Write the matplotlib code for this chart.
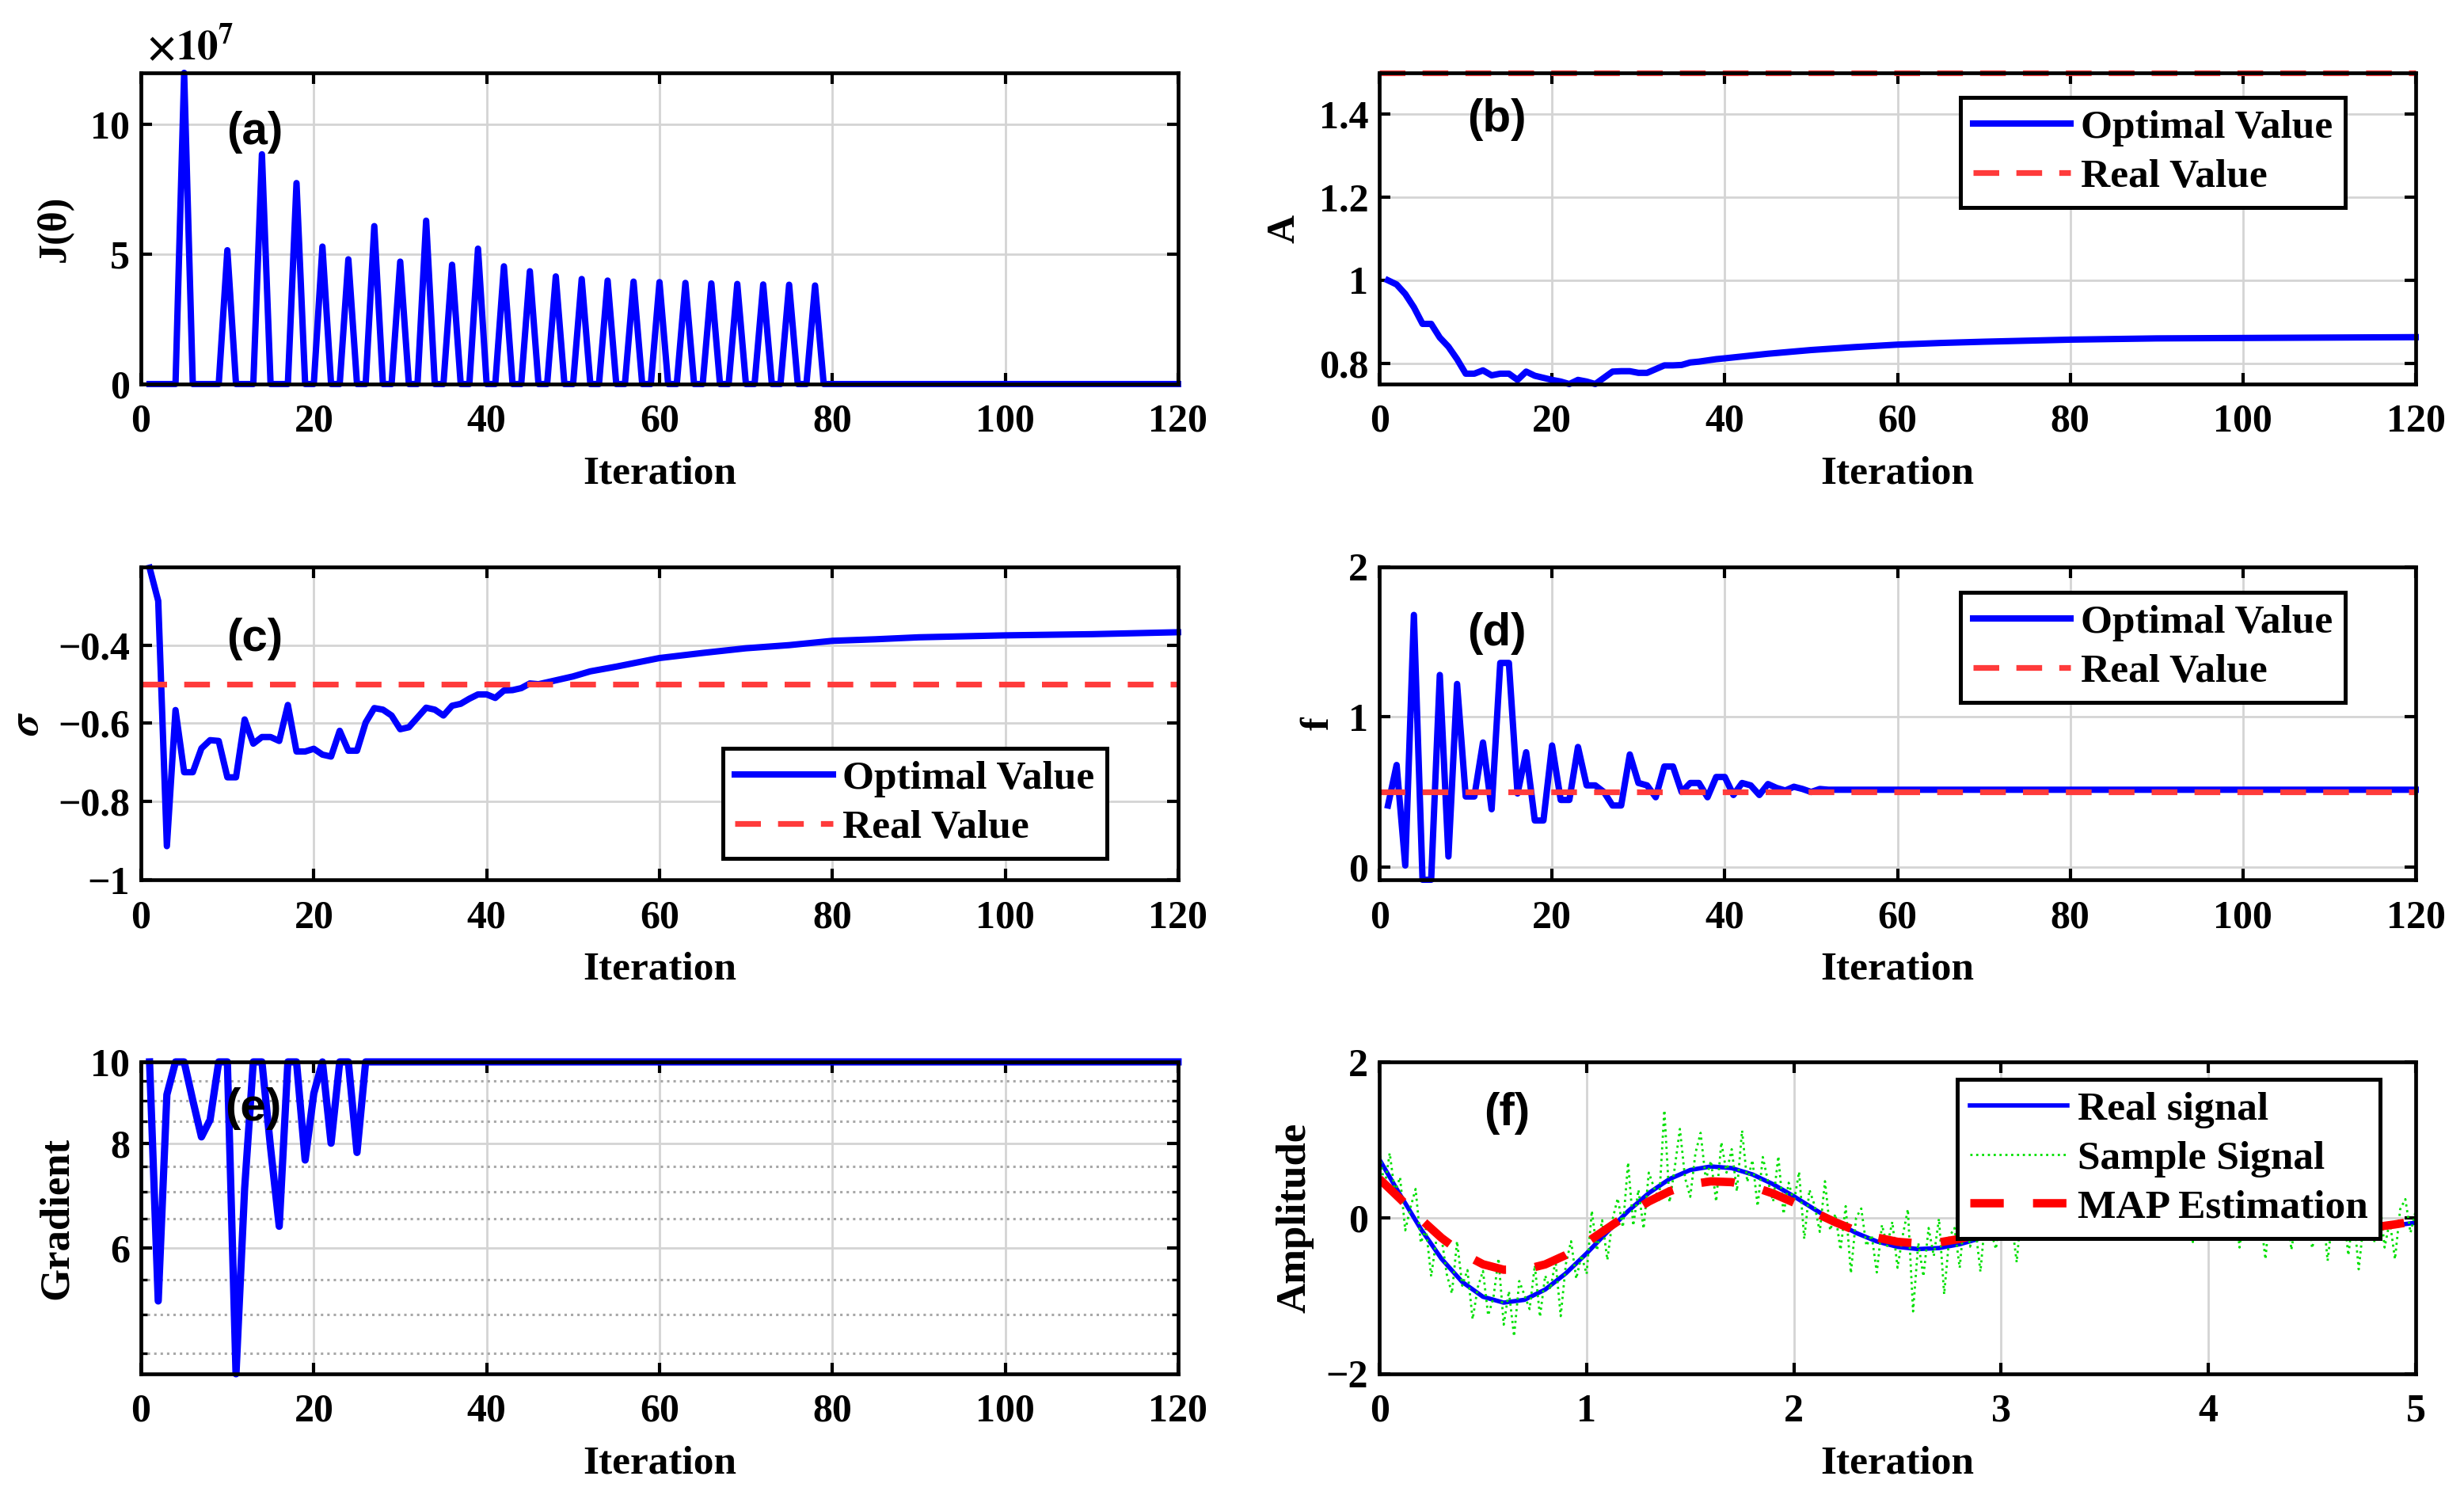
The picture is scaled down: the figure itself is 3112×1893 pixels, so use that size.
import numpy as np
import matplotlib.pyplot as plt
from matplotlib.ticker import FixedLocator, NullFormatter

plt.rcParams['font.family'] = ['Liberation Serif', 'DejaVu Serif']
plt.rcParams['font.weight'] = 'bold'
plt.rcParams['mathtext.fontset'] = 'stix'

# ---------------- data ----------------
# (a) cost J(theta), in units of 1e7: spikes, zero elsewhere
n_iter = 120
spike_iters = [5, 10, 14, 18, 21, 24, 27, 30, 33, 36, 39, 42, 45, 48, 51, 54,
               57, 60, 63, 66, 69, 72, 75, 78]
spike_vals = [12.0, 5.16, 8.86, 7.75, 5.3, 4.81, 6.09, 4.72, 6.3, 4.6, 5.22,
              4.54, 4.35, 4.15, 4.05, 3.99, 3.95, 3.93, 3.9, 3.88, 3.86, 3.84,
              3.83, 3.80]

# (b) amplitude A
iter_b = list(range(1, 41)) + [45, 50, 55, 60, 65, 70, 80, 90, 100, 110, 120]
A_opt = [1.0, 0.99, 0.967, 0.935, 0.895, 0.895, 0.862, 0.84, 0.81, 0.775,
         0.775, 0.783, 0.771, 0.775, 0.775, 0.76, 0.78, 0.77, 0.765, 0.76,
         0.756, 0.75, 0.76, 0.756, 0.75, 0.765, 0.78, 0.781, 0.781, 0.777,
         0.777, 0.786, 0.795, 0.795, 0.796, 0.802, 0.804, 0.807, 0.81, 0.812,
         0.823, 0.832, 0.839, 0.845, 0.849, 0.852, 0.857, 0.86, 0.861, 0.862, 0.863]
A_real = 1.5

# (c) damping sigma
iter_c = list(range(1, 49)) + [50, 52, 55, 60, 65, 70, 75, 80, 85, 90, 100, 110, 120]
sigma_opt = [-0.202, -0.287, -0.914, -0.566, -0.725, -0.725, -0.664, -0.643, -0.645, -0.738,
             -0.738, -0.59, -0.652, -0.635, -0.635, -0.645, -0.553, -0.672, -0.672, -0.665,
             -0.68, -0.685, -0.619, -0.67, -0.67, -0.598, -0.561, -0.565, -0.58, -0.615,
             -0.61, -0.585, -0.56, -0.565, -0.58, -0.555, -0.55, -0.537, -0.526, -0.526,
             -0.535, -0.516, -0.515, -0.51, -0.498, -0.5, -0.495, -0.49,
             -0.48, -0.467, -0.455, -0.433, -0.42, -0.408, -0.4, -0.389, -0.385, -0.38,
             -0.375, -0.372, -0.367]
sigma_real = -0.5

# (d) frequency f
iter_d = list(range(1, 52)) + [52, 120]
f_opt = [0.41, 0.68, 0.01, 1.68, -0.085, -0.085, 1.28, 0.07, 1.22, 0.47,
         0.47, 0.83, 0.385, 1.36, 1.36, 0.49, 0.765, 0.31, 0.31, 0.81,
         0.447, 0.447, 0.80, 0.544, 0.544, 0.50, 0.41, 0.41, 0.75, 0.56,
         0.544, 0.465, 0.67, 0.67, 0.50, 0.56, 0.56, 0.465, 0.60, 0.60,
         0.48, 0.56, 0.544, 0.48, 0.553, 0.527, 0.51, 0.535, 0.52, 0.50,
         0.52, 0.515, 0.515]
f_real = 0.5

# (e) gradient (log axis)
iter_e = list(range(1, 27)) + [120]
grad = [10, 5.19, 9.14, 10, 10, 9.0, 8.14, 8.53, 10, 10,
        4.25, 7.07, 10, 10, 7.9, 6.37, 10, 10, 7.64, 9.17,
        10, 8.0, 10, 10, 7.8, 10, 10]

# (f) signals
t_coarse = [round(0.1 * k, 1) for k in range(51)]
real_signal = [0.750, 0.297, -0.142, -0.525, -0.822, -1.012, -1.087, -1.051, -0.919, -0.711,
               -0.455, -0.180, 0.086, 0.318, 0.498, 0.614, 0.659, 0.638, 0.557, 0.431,
               0.276, 0.109, -0.052, -0.193, -0.302, -0.372, -0.400, -0.387, -0.338, -0.262,
               -0.167, -0.066, 0.032, 0.117, 0.183, 0.226, 0.243, 0.235, 0.205, 0.159,
               0.102, 0.040, -0.019, -0.071, -0.111, -0.137, -0.147, -0.142, -0.124, -0.096,
               -0.062]
map_est = [0.500, 0.245, -0.016, -0.257, -0.456, -0.595, -0.665, -0.664, -0.597, -0.476,
           -0.316, -0.135, 0.046, 0.210, 0.341, 0.429, 0.468, 0.458, 0.403, 0.312,
           0.196, 0.069, -0.056, -0.166, -0.252, -0.307, -0.328, -0.314, -0.270, -0.203,
           -0.120, -0.031, 0.055, 0.129, 0.185, 0.219, 0.229, 0.215, 0.181, 0.131,
           0.072, 0.009, -0.049, -0.099, -0.135, -0.156, -0.159, -0.146, -0.120, -0.084,
           -0.041]
t_fine = [round(0.025 * j, 3) for j in range(201)]
sample_signal = [0.87, 0.39, 0.83, 0.33, 0.52, -0.16, 0.13, 0.37, -0.32, -0.14,
                 -0.75, -0.28, -0.25, -0.72, -0.97, -0.30, -0.87, -0.67, -1.30, -0.89,
                 -0.68, -1.25, -1.03, -0.52, -1.37, -0.94, -1.52, -0.81, -0.99, -1.17,
                 -0.61, -1.27, -0.74, -0.92, -0.55, -1.26, -0.59, -0.30, -0.78, -0.48,
                 -0.72, 0.09, -0.42, -0.03, -0.54, -0.02, 0.25, -0.12, 0.71, -0.10,
                 0.36, -0.14, 0.58, 0.39, 0.23, 1.38, 0.20, 0.64, 1.14, 0.51,
                 0.27, 0.83, 1.09, 0.49, 0.73, 0.21, 0.97, 0.58, 0.88, 0.34,
                 1.12, 0.46, 0.74, 0.15, 0.78, 0.47, 0.21, 0.79, 0.05, 0.45,
                 0.20, 0.59, -0.27, 0.36, 0.16, -0.18, 0.47, -0.16, 0.05, -0.41,
                 0.15, -0.71, 0.00, 0.12, -0.36, -0.22, -0.70, -0.09, -0.36, -0.05,
                 -0.64, -0.23, 0.11, -1.20, -0.32, -0.75, -0.13, -0.49, -0.01, -0.98,
                 -0.24, -0.13, -0.64, 0.09, -0.37, -0.11, -0.69, 0.05, -0.17, -0.40,
                 0.18, -0.28, -0.03, -0.57, 0.18, 0.36, -0.22, 0.14, -0.30, 0.11,
                 0.38, -0.16, 0.59, 0.04, 0.33, -0.20, 0.20, 0.47, 0.05, 0.61,
                 -0.06, 0.34, 0.19, 0.57, -0.17, 0.44, 0.31, 0.00, 0.69, 0.10,
                 0.38, -0.14, 0.46, 0.17, 0.55, -0.11, 0.26, -0.31, 0.34, 0.42,
                 -0.08, 0.14, -0.25, 0.48, -0.07, 0.27, -0.38, 0.14, 0.31, -0.25,
                 0.04, -0.53, 0.20, -0.14, 0.10, 0.26, -0.41, 0.00, -0.28, 0.31,
                 -0.39, -0.11, 0.17, -0.55, 0.02, -0.24, 0.14, -0.48, 0.08, -0.66,
                 -0.03, 0.13, -0.31, 0.26, -0.38, -0.04, -0.53, 0.11, 0.24, -0.19,
                 0.09]

iters = np.arange(1, n_iter + 1)
J = np.zeros(n_iter)
J[np.array(spike_iters) - 1] = spike_vals

BLUE = '#0000ff'
RED_REAL = '#ff3b3b'
FS = 18

fig = plt.figure(figsize=(15.56, 9.465), dpi=200)
lefts = [0.0572, 0.5598]
widths = [0.4209, 0.4206]
bottoms = [0.7438, 0.4131, 0.0835]
heights = [0.2076, 0.2087, 0.2081]
axs = [[fig.add_axes([lefts[c], bottoms[r], widths[c], heights[r]]) for c in range(2)]
       for r in range(3)]


def style(ax):
    ax.grid(True, color='#d4d4d4', lw=1.0)
    ax.set_axisbelow(True)
    for s in ax.spines.values():
        s.set_linewidth(1.7)
    ax.tick_params(direction='in', top=True, right=True, length=5, width=1.5,
                   labelsize=FS)
    ax.tick_params(axis='x', pad=9)
    ax.tick_params(axis='y', pad=5)
    ax.set_xlabel('Iteration', fontsize=FS + 0.5, fontweight='bold', labelpad=7)


def panel(ax, s, x, y):
    ax.text(x, y, s, transform=ax.transAxes, fontfamily='Liberation Sans',
            fontweight='bold', fontsize=21, ha='center', va='center')


def leg(ax, anchor):
    lg = ax.legend(loc='upper left', bbox_to_anchor=anchor, borderaxespad=0,
                   fancybox=False, edgecolor='black', framealpha=1,
                   prop={'size': FS + 0.5, 'weight': 'bold'}, handlelength=2.4,
                   handletextpad=0.25, borderpad=0.3, labelspacing=0.28)
    lg.get_frame().set_linewidth(1.8)


# (a)
ax = axs[0][0]
style(ax)
ax.plot(iters, J, color=BLUE, lw=2.9, clip_on=False)
ax.set_xlim(0, 120)
ax.set_ylim(0, 12.0)
ax.set_xticks(range(0, 121, 20))
ax.set_yticks([0, 5, 10])
ax.set_ylabel('J(θ)', fontsize=FS, fontweight='bold')
ax.yaxis.set_label_coords(-0.066, 0.5)
ax.text(0.005, 1.015, r'$\times10^{7}$', transform=ax.transAxes, fontsize=19,
        ha='left', va='bottom')
panel(ax, '(a)', 0.11, 0.81)

# (b)
ax = axs[0][1]
style(ax)
ax.plot(iter_b, A_opt, color=BLUE, lw=2.9, label='Optimal Value', clip_on=False)
ax.axhline(A_real, color=RED_REAL, lw=2.6, dashes=(4.5, 3), label='Real Value',
           clip_on=False)
ax.set_xlim(0, 120)
ax.set_ylim(0.75, 1.5)
ax.set_xticks(range(0, 121, 20))
ax.set_yticks([0.8, 1.0, 1.2, 1.4])
ax.set_yticklabels(['0.8', '1', '1.2', '1.4'])
ax.set_ylabel('A', fontsize=FS, fontweight='bold')
ax.yaxis.set_label_coords(-0.074, 0.5)
panel(ax, '(b)', 0.113, 0.85)
leg(ax, (0.561, 0.921))

# (c)
ax = axs[1][0]
style(ax)
ax.plot(iter_c, sigma_opt, color=BLUE, lw=2.9, label='Optimal Value', clip_on=False)
ax.axhline(sigma_real, color=RED_REAL, lw=2.6, dashes=(4.5, 3), label='Real Value')
ax.set_xlim(0, 120)
ax.set_ylim(-1, -0.2)
ax.set_xticks(range(0, 121, 20))
ax.set_yticks([-1, -0.8, -0.6, -0.4])
ax.set_yticklabels(['\u22121', '\u22120.8', '\u22120.6', '\u22120.4'])
ax.set_ylabel(r'$\sigma$', fontsize=FS + 1)
ax.yaxis.set_label_coords(-0.091, 0.5)
panel(ax, '(c)', 0.11, 0.77)
leg(ax, (0.561, 0.42))

# (d)
ax = axs[1][1]
style(ax)
ax.plot(iter_d, f_opt, color=BLUE, lw=2.9, label='Optimal Value', clip_on=False)
ax.axhline(f_real, color=RED_REAL, lw=2.6, dashes=(4.5, 3), label='Real Value')
ax.set_xlim(0, 120)
ax.set_ylim(-0.085, 2)
ax.set_xticks(range(0, 121, 20))
ax.set_yticks([0, 1, 2])
ax.set_ylabel('f', fontsize=FS, fontweight='bold')
ax.yaxis.set_label_coords(-0.041, 0.5)
panel(ax, '(d)', 0.113, 0.787)
leg(ax, (0.561, 0.919))

# (e)
ax = axs[2][0]
style(ax)
ax.set_yscale('log')
ax.plot(iter_e, grad, color=BLUE, lw=3.3, clip_on=False)
ax.set_xlim(0, 120)
ax.set_ylim(4.25, 10)
ax.set_xticks(range(0, 121, 20))
ax.yaxis.set_major_locator(FixedLocator([6, 8, 10]))
ax.set_yticklabels(['6', '8', '10'])
ax.yaxis.set_minor_locator(FixedLocator([4.5, 5, 5.5, 6.5, 7, 7.5, 8.5, 9, 9.5]))
ax.yaxis.set_minor_formatter(NullFormatter())
ax.tick_params(which='minor', axis='y', direction='in', length=3, width=1.2,
               right=True)
ax.grid(True, which='minor', axis='y', color='#a8a8a8', lw=1.1, linestyle=':')
ax.set_ylabel('Gradient', fontsize=FS + 1, fontweight='bold')
ax.yaxis.set_label_coords(-0.063, 0.5)
panel(ax, '(e)', 0.108, 0.85)

# (f)
ax = axs[2][1]
style(ax)
ax.plot(t_coarse, real_signal, color=BLUE, lw=2.0, label='Real signal')
ax.plot(t_fine, sample_signal, color='#00e000', lw=1.0, linestyle=':',
        label='Sample Signal')
ax.plot(t_coarse, map_est, color='red', lw=3.8, dashes=(4, 3.5),
        label='MAP Estimation')
ax.set_xlim(0, 5)
ax.set_ylim(-2, 2)
ax.set_xticks(range(0, 6))
ax.set_yticks([-2, 0, 2])
ax.set_yticklabels(['\u22122', '0', '2'])
ax.set_ylabel('Amplitude', fontsize=FS + 1, fontweight='bold')
ax.yaxis.set_label_coords(-0.063, 0.5)
panel(ax, '(f)', 0.123, 0.835)
leg(ax, (0.558, 0.944))

fig.savefig('out.png', dpi=200)
